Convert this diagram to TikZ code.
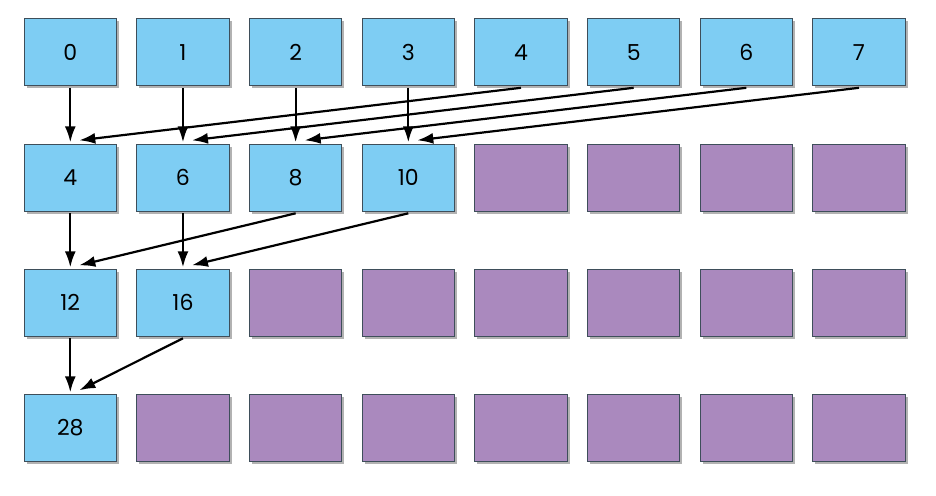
\documentclass[tikz,border=0pt]{standalone}
\usepackage{fontspec}
\setmainfont{Poppins}
\usetikzlibrary{arrows.meta,calc,shadows}
\definecolor{cellblue}{RGB}{126,205,243}
\definecolor{cellpurple}{RGB}{170,137,190}
\definecolor{cellborder}{RGB}{62,78,90}
\tikzset{
  cell/.style={draw=cellborder, line width=1pt, minimum width=92.5pt, minimum height=67pt,
    inner sep=0pt, outer sep=0pt, font=\fontsize{22}{26}\selectfont,
    drop shadow={shadow xshift=2.5pt, shadow yshift=-2.5pt, fill=black, opacity=0.3}},
  val/.style={cell, fill=cellblue},
  empty/.style={cell, fill=cellpurple},
  link/.style={line width=2.2pt, -{Latex[length=16pt,width=11pt]}}
}
\begin{document}
\begin{tikzpicture}[x=1pt,y=-1pt]
\useasboundingbox (0,0) rectangle (936,495);
% row 0
\foreach \i/\t in {0/0,1/1,2/2,3/3,4/4,5/5,6/6,7/7}
  \node[val] (a\i) at ({70.3+112.67*\i},52.3) {\t};
% row 1
\foreach \i/\t in {0/4,1/6,2/8,3/10}
  \node[val] (b\i) at ({70.3+112.67*\i},177.8) {\t};
\foreach \i in {4,...,7}
  \node[empty] (b\i) at ({70.3+112.67*\i},177.8) {};
% row 2
\foreach \i/\t in {0/12,1/16}
  \node[val] (c\i) at ({70.3+112.67*\i},302.8) {\t};
\foreach \i in {2,...,7}
  \node[empty] (c\i) at ({70.3+112.67*\i},302.8) {};
% row 3
\node[val] (d0) at (70.3,427.8) {28};
\foreach \i in {1,...,7}
  \node[empty] (d\i) at ({70.3+112.67*\i},427.8) {};
% connectors row 0 -> row 1
\foreach \i in {0,...,3}
  \draw[link] ($(a\i.south)+(0,2)$) -- ($(b\i.north)+(0,-2)$);
\foreach \s/\d in {4/0,5/1,6/2,7/3}
  \draw[link] ($(a\s.south)+(0,2)$) -- ($(b\d.north)+(9,-4)$);
% row 1 -> row 2
\foreach \i in {0,1}
  \draw[link] ($(b\i.south)+(0,2)$) -- ($(c\i.north)+(0,-2)$);
\foreach \s/\d in {2/0,3/1}
  \draw[link] ($(b\s.south)+(0,2)$) -- ($(c\d.north)+(9,-4)$);
% row 2 -> row 3
\draw[link] ($(c0.south)+(0,2)$) -- ($(d0.north)+(0,-2)$);
\draw[link] ($(c1.south)+(0,2)$) -- ($(d0.north)+(9,-4)$);
\end{tikzpicture}
\end{document}
